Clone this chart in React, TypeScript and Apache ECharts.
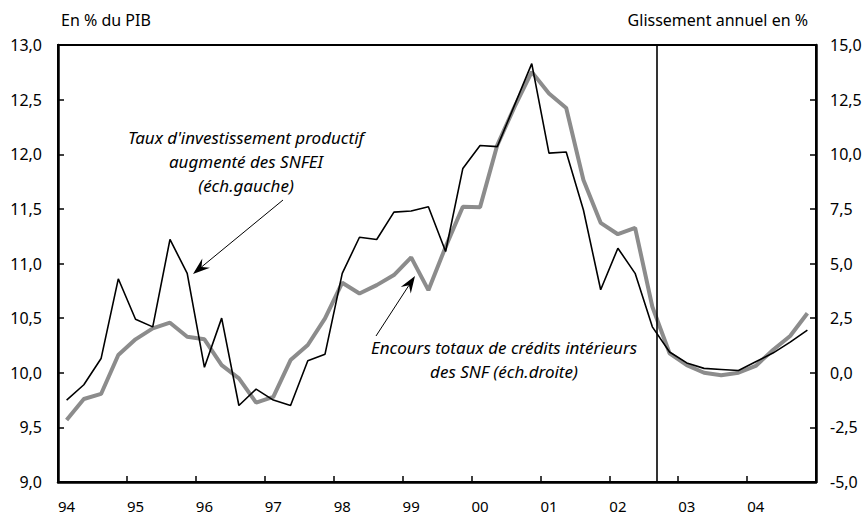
import React, { useEffect, useRef } from "react";
import * as echarts from "echarts";

const years = ["94", "95", "96", "97", "98", "99", "00", "01", "02", "03", "04"];
const firstYear = 1994;

// Taux d'investissement productif augmenté des SNFEI (% du PIB, left axis), quarterly 1994Q1-2004Q4
const invest = [
  9.75, 9.89, 10.13, 10.86, 10.49, 10.42, 11.22, 10.91, 10.05, 10.5, 9.7, 9.85,
  9.75, 9.7, 10.11, 10.17, 10.91, 11.24, 11.22, 11.47, 11.48, 11.52, 11.11, 11.87,
  12.08, 12.07, 12.45, 12.83, 12.01, 12.02, 11.49, 10.76, 11.14, 10.91, 10.42, 10.19,
  10.09, 10.04, 10.03, 10.02, 10.1, 10.18, 10.28, 10.39,
];

// Encours totaux de crédits intérieurs des SNF (glissement annuel %, right axis)
const credit = [
  -2.16, -1.2, -0.97, 0.81, 1.53, 2.03, 2.29, 1.65, 1.53, 0.35, -0.26, -1.37,
  -1.1, 0.58, 1.27, 2.49, 4.12, 3.63, 4.01, 4.47, 5.28, 3.78, 5.76, 7.6,
  7.58, 10.42, 12.17, 13.77, 12.78, 12.12, 8.82, 6.86, 6.34, 6.63, 3.02, 0.89,
  0.35, 0.0, -0.11, 0.0, 0.31, 1.04, 1.68, 2.72,
];

const separatorX = 2002.69;

const FONT = "'Noto Sans', sans-serif";
const fmt = (v: number) => v.toFixed(1).replace(".", ",");

function arrow(x1: number, y1: number, x2: number, y2: number) {
  const dx = x2 - x1;
  const dy = y2 - y1;
  const len = Math.sqrt(dx * dx + dy * dy);
  const ux = dx / len;
  const uy = dy / len;
  const nx = -uy;
  const ny = ux;
  const L = 17;
  const W = 6;
  const bx = x2 - L * ux;
  const by = y2 - L * uy;
  const nbx = x2 - 0.65 * L * ux;
  const nby = y2 - 0.65 * L * uy;
  return [
    {
      type: "line",
      shape: { x1, y1, x2: nbx, y2: nby },
      style: { stroke: "#000", lineWidth: 1 },
      z: 100,
    },
    {
      type: "polygon",
      shape: {
        points: [
          [x2, y2],
          [bx + W * nx, by + W * ny],
          [nbx, nby],
          [bx - W * nx, by - W * ny],
        ],
      },
      style: { fill: "#000" },
      z: 100,
    },
  ];
}

export default function App() {
  const ref = useRef<HTMLDivElement>(null);
  useEffect(() => {
    if (!ref.current) return;
    const chart = echarts.init(ref.current, null, { renderer: "svg" });
    const toXY = (arr: number[]) =>
      arr.map((v, i) => [firstYear + (i + 0.5) / 4, v]);
    const quarters = years.flatMap((y) => [y + "-1", y + "-2", y + "-3", y + "-4"]);
    const axisLabelStyle = { color: "#000", fontSize: 16, fontFamily: FONT };
    chart.setOption({
      animation: false,
      backgroundColor: "#fff",
      grid: {
        left: 58,
        right: 51,
        top: 45,
        bottom: 37,
        show: true,
        borderColor: "#000",
        borderWidth: 2,
        containLabel: false,
      },
      xAxis: [
        {
          type: "value",
          min: firstYear,
          max: firstYear + years.length,
          interval: 1,
          position: "bottom",
          axisLine: { show: true, onZero: false, lineStyle: { color: "#000", width: 2.5 } },
          axisTick: { show: true, inside: true, length: 6, lineStyle: { color: "#000", width: 1.5 } },
          axisLabel: { show: false },
          splitLine: { show: false },
        },
        {
          type: "category",
          data: quarters,
          position: "bottom",
          boundaryGap: true,
          axisLine: { show: false, onZero: false },
          axisTick: { show: false },
          axisLabel: {
            color: "#000",
            fontSize: 15,
            fontFamily: FONT,
            margin: 16,
            interval: 3,
            formatter: (v: string) => v.split("-")[0],
          },
          splitLine: { show: false },
        },
      ],
      yAxis: [
        {
          type: "value",
          min: 9,
          max: 13,
          interval: 0.5,
          position: "left",
          axisLine: { show: true, lineStyle: { color: "#000", width: 2.5 } },
          axisTick: { show: true, inside: true, length: 6, lineStyle: { color: "#000", width: 1.5 } },
          axisLabel: { ...axisLabelStyle, margin: 16, formatter: fmt },
          splitLine: { show: false },
        },
        {
          type: "value",
          min: -5,
          max: 15,
          interval: 2.5,
          position: "right",
          axisLine: { show: true, lineStyle: { color: "#000", width: 2.5 } },
          axisTick: { show: true, inside: true, length: 6, lineStyle: { color: "#000", width: 1.5 } },
          axisLabel: { ...axisLabelStyle, margin: 14, formatter: fmt },
          splitLine: { show: false },
        },
      ],
      series: [
        {
          name: "Encours totaux de crédits intérieurs des SNF",
          type: "line",
          xAxisIndex: 0,
          yAxisIndex: 1,
          data: toXY(credit),
          symbol: "none",
          lineStyle: { color: "#8c8c8c", width: 4 },
          z: 2,
        },
        {
          name: "Taux d'investissement productif augmenté des SNFEI",
          type: "line",
          xAxisIndex: 0,
          yAxisIndex: 0,
          data: toXY(invest),
          symbol: "none",
          lineStyle: { color: "#000", width: 1.6 },
          z: 3,
          markLine: {
            silent: true,
            symbol: ["none", "none"],
            label: { show: false },
            lineStyle: { color: "#000", width: 1.6, type: "solid" },
            data: [{ xAxis: separatorX }],
          },
        },
      ],
      graphic: [
        {
          type: "text",
          left: 61,
          top: 12,
          style: { text: "En % du PIB", fill: "#000", font: `16px ${FONT}` },
        },
        {
          type: "text",
          right: 59,
          top: 12,
          style: { text: "Glissement annuel en %", fill: "#000", font: `16px ${FONT}` },
        },
        {
          type: "text",
          x: 246,
          y: 161,
          style: {
            text: "Taux d'investissement productif\naugmenté des SNFEI\n(éch.gauche)",
            fill: "#000",
            font: `italic 17px ${FONT}`,
            align: "center",
            verticalAlign: "middle",
            lineHeight: 24,
          },
        },
        {
          type: "text",
          x: 504,
          y: 359,
          style: {
            text: "Encours totaux de crédits intérieurs\ndes SNF (éch.droite)",
            fill: "#000",
            font: `italic 17px ${FONT}`,
            align: "center",
            verticalAlign: "middle",
            lineHeight: 24,
          },
        },
        ...arrow(283, 200, 193, 274),
        ...arrow(376, 336, 415, 276),
      ],
    });
    return () => chart.dispose();
  }, []);
  return (
    <div
      ref={ref}
      style={{ position: "fixed", left: 0, top: 0, width: 867, height: 519, background: "#fff" }}
    />
  );
}
